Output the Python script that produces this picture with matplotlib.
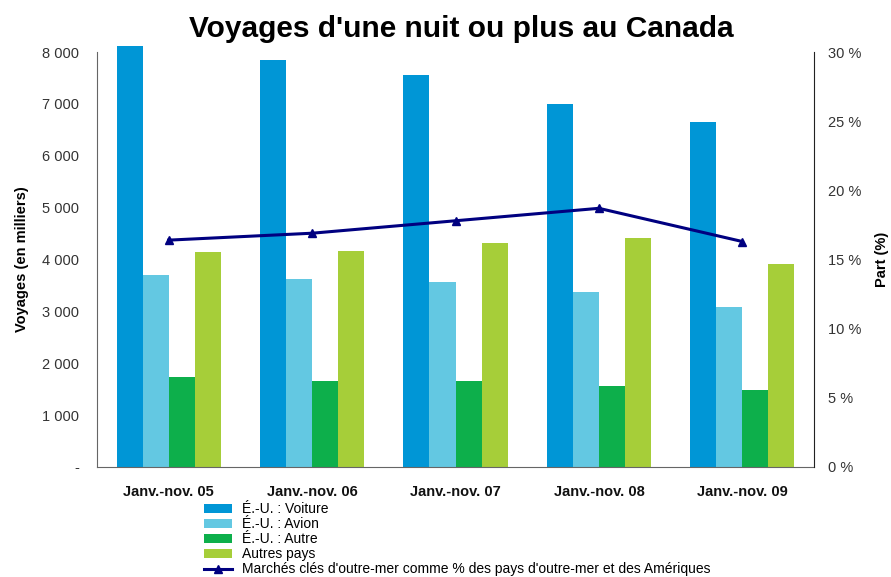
import matplotlib
matplotlib.use("Agg")
import matplotlib.pyplot as plt
from matplotlib.ticker import FuncFormatter, MultipleLocator
import numpy as np

plt.rcParams['font.family'] = ['Liberation Sans', 'DejaVu Sans']

categories = ["Janv.-nov. 05", "Janv.-nov. 06", "Janv.-nov. 07", "Janv.-nov. 08", "Janv.-nov. 09"]
voiture = [8110, 7840, 7555, 6995, 6650]
avion = [3700, 3625, 3565, 3375, 3085]
autre = [1735, 1660, 1660, 1560, 1485]
autres_pays = [4145, 4165, 4315, 4410, 3910]
part = [16.4, 16.9, 17.8, 18.7, 16.3]

series_names = ["É.-U. : Voiture", "É.-U. : Avion", "É.-U. : Autre", "Autres pays"]
line_name = "Marchés clés d'outre-mer comme % des pays d'outre-mer et des Amériques"
colors = ["#0096D6", "#63C8E2", "#0DAF4B", "#A6CE39"]
line_color = "#000080"

fig = plt.figure(figsize=(8.91, 5.77), dpi=100)
ax = fig.add_axes([97/891, 1-467/577, (814-97)/891, (467-52)/577])

x = np.arange(len(categories))
w = 0.182
data = [voiture, avion, autre, autres_pays]
handles = []
for i, (vals, c, n) in enumerate(zip(data, colors, series_names)):
    b = ax.bar(x + (i - 1.5) * w, vals, width=w, color=c, label=n, zorder=2, clip_on=False)
    handles.append(b)

ax.set_xlim(-0.5, 4.5)
ax.set_ylim(0, 8000)
ax.yaxis.set_major_locator(MultipleLocator(1000))
def lfmt(v, p):
    if v == 0:
        return "-"
    return f"{int(v):,}".replace(",", " ")
ax.yaxis.set_major_formatter(FuncFormatter(lfmt))
ax.set_xticks(x)
ax.set_xticklabels(categories, fontsize=10.5, fontweight='bold', color='#111111')
ax.tick_params(axis='y', length=0, pad=13, labelsize=10.5, labelcolor='#333333')
ax.tick_params(axis='x', length=0, pad=13)
for s in ['top', 'right']:
    ax.spines[s].set_visible(False)
ax.spines['left'].set_color('#666666')
ax.spines['bottom'].set_color('#666666')
ax.set_ylabel("Voyages (en milliers)", fontsize=10.5, fontweight='bold', labelpad=9)

ax2 = ax.twinx()
ax2.set_ylim(0, 30)
ax2.yaxis.set_major_locator(MultipleLocator(5))
ax2.yaxis.set_major_formatter(FuncFormatter(lambda v, p: f"{int(v)} %"))
ax2.tick_params(axis='y', length=0, pad=10, labelsize=10.5, labelcolor='#333333')
for s in ['top', 'left', 'bottom']:
    ax2.spines[s].set_visible(False)
ax2.spines['right'].set_color('#222222')
ln, = ax2.plot(x, part, color=line_color, lw=2.2, marker='^', markersize=6, label=line_name, zorder=3)
ax2.set_ylabel("Part (%)", fontsize=10.5, fontweight='bold', labelpad=10)

fig.suptitle("Voyages d'une nuit ou plus au Canada", fontsize=21.5, fontweight='bold', x=0.518, y=1-15/577, va='top')

fig.legend(handles + [ln], series_names + [line_name], loc='upper left',
           bbox_to_anchor=(204/891, 1-502/577), frameon=False, fontsize=10,
           labelspacing=0.08, handlelength=2.0, handleheight=0.6, handletextpad=0.75,
           borderpad=0, borderaxespad=0)

fig.savefig("out.png", dpi=100)
